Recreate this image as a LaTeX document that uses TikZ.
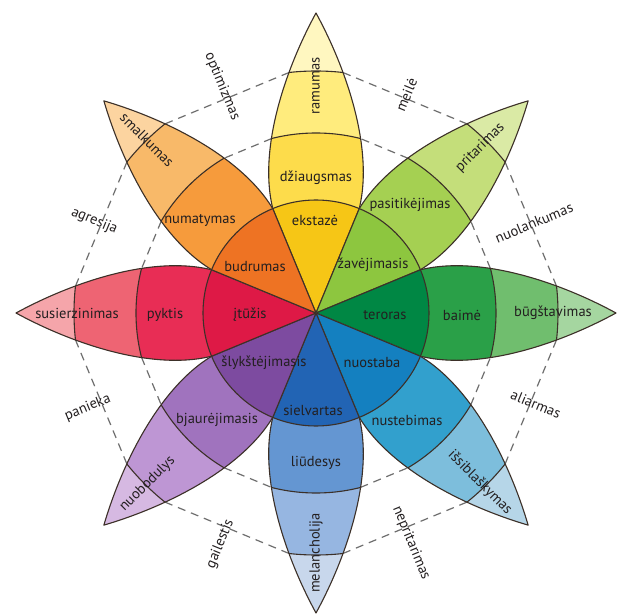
\documentclass[tikz,border=0pt]{standalone}
\usepackage{fontspec}
\setmainfont{PT Sans}
\definecolor{edgec}{RGB}{60,48,40}
\definecolor{dashc}{RGB}{110,110,110}
\definecolor{txt}{RGB}{35,31,32}
\definecolor{Y1}{RGB}{246,198,22}\definecolor{Y2}{RGB}{253,220,75}\definecolor{Y3}{RGB}{255,236,125}\definecolor{Y4}{RGB}{255,247,192}
\definecolor{G1}{RGB}{141,198,63}\definecolor{G2}{RGB}{165,208,82}\definecolor{G3}{RGB}{196,222,122}\definecolor{G4}{RGB}{218,234,165}
\definecolor{T1}{RGB}{0,135,68}\definecolor{T2}{RGB}{42,160,72}\definecolor{T3}{RGB}{112,190,110}\definecolor{T4}{RGB}{165,214,160}
\definecolor{C1}{RGB}{20,128,192}\definecolor{C2}{RGB}{50,160,205}\definecolor{C3}{RGB}{125,190,220}\definecolor{C4}{RGB}{182,214,232}
\definecolor{B1}{RGB}{34,100,180}\definecolor{B2}{RGB}{100,150,210}\definecolor{B3}{RGB}{150,182,225}\definecolor{B4}{RGB}{200,215,236}
\definecolor{P1}{RGB}{125,75,160}\definecolor{P2}{RGB}{160,115,190}\definecolor{P3}{RGB}{190,150,212}\definecolor{P4}{RGB}{214,185,226}
\definecolor{R1}{RGB}{222,25,70}\definecolor{R2}{RGB}{232,45,85}\definecolor{R3}{RGB}{238,100,115}\definecolor{R4}{RGB}{245,165,170}
\definecolor{O1}{RGB}{238,115,35}\definecolor{O2}{RGB}{246,155,60}\definecolor{O3}{RGB}{248,185,105}\definecolor{O4}{RGB}{252,212,160}
\begin{document}
\begin{tikzpicture}[x=1pt,y=1pt,
  edge/.style={draw=edgec, line width=1.1pt},
  chord/.style={draw=dashc, line width=1.2pt, dash pattern=on 8pt off 6pt},
  lab/.style={font=\fontsize{14.5}{14.5}\selectfont, text=txt, inner sep=0pt},
]
\useasboundingbox (-316,-302) rectangle (307,313);
\fill[white] (-316,-302) rectangle (307,313);
% dashed chords between petals
\foreach \a in {0,45,...,315}{
  \draw[chord] (\a+14.3:180) -- (\a+30.7:180);
  \draw[chord] (\a+6.4:242) -- (\a+38.6:242);
}
% petals
\foreach \a/\ca/\cb/\cc/\cd in {90/Y1/Y2/Y3/Y4, 45/G1/G2/G3/G4, 0/T1/T2/T3/T4, -45/C1/C2/C3/C4,
  -90/B1/B2/B3/B4, -135/P1/P2/P3/P4, 180/R1/R2/R3/R4, 135/O1/O2/O3/O4}{
  \begin{scope}[rotate=\a]
    \begin{scope}
      \clip (0,0) -- (22.5:113) .. controls (165,58) and (245,30) .. (300,0)
        .. controls (245,-30) and (165,-58) .. (-22.5:113) -- cycle;
      \fill[\cd] (-5,-70) rectangle (305,70);
      \fill[\cc] (0,0) circle (242);
      \fill[\cb] (0,0) circle (180);
      \fill[\ca] (0,0) circle (113);
      \draw[edge] (0,0) circle (242) (0,0) circle (180) (0,0) circle (113);
    \end{scope}
    \draw[edge, line join=round] (0,0) -- (22.5:113) .. controls (165,58) and (245,30) .. (300,0)
        .. controls (245,-30) and (165,-58) .. (-22.5:113) -- cycle;
  \end{scope}
}
% inner labels
\node[lab] (ekstaze) at (-1,93) {ekstazė};
\node[lab] (zavejimasis) at (57,48) {žavėjimasis};
\node[lab] (teroras) at (69,-2) {teroras};
\node[lab] (nuostaba) at (56,-50) {nuostaba};
\node[lab] (sielvartas) at (-3,-97) {sielvartas};
\node[lab] (slyks) at (-52,-50) {šlykštėjimasis};
\node[lab] (ituzis) at (-66,-2) {įtūžis};
\node[lab] (budrumas) at (-61,46) {budrumas};
% middle labels
\node[lab] (dziaugsmas) at (0,135) {džiaugsmas};
\node[lab] (pasitikejimas) at (94,108) {pasitikėjimas};
\node[lab] (baime) at (146,-2) {baimė};
\node[lab] (nustebimas) at (91,-107) {nustebimas};
\node[lab] (liudesys) at (0,-150) {liūdesys};
\node[lab] (bjaurejimasis) at (-99,-107) {bjaurėjimasis};
\node[lab] (pyktis) at (-151,-2) {pyktis};
\node[lab] (numatymas) at (-116,93) {numatymas};
% outer labels
\node[lab, rotate=90] (ramumas) at (90:227) {ramumas};
\node[lab, rotate=45] (pritarimas) at (45.2:233) {pritarimas};
\node[lab] (bugstavimas) at (0:237) {būgštavimas};
\node[lab, rotate=-45] (issiblaskymas) at (-46:236) {išsiblaškymas};
\node[lab, rotate=90] (melancholija) at (-90:240) {melancholija};
\node[lab, rotate=45] (nuobodulys) at (-134.6:240) {nuobodulys};
\node[lab] (susierzinimas) at (180:239) {susierzinimas};
\node[lab, rotate=-45] (smalkumas) at (134.3:242) {smalkumas};
% dyads
\node[lab, rotate=-67.5] (optimizmas) at (112.5:245) {optimizmas};
\node[lab, rotate=67.5] (meile) at (67.5:236) {meilė};
\node[lab, rotate=22.5] (nuolankumas) at (22.5:236) {nuolankumas};
\node[lab, rotate=-22.5] (aliarmas) at (-22.5:238) {aliarmas};
\node[lab, rotate=-67.5] (nepritarimas) at (-67.5:249) {nepritarimas};
\node[lab, rotate=67.5] (gailestis) at (-112.5:250) {gailestis};
\node[lab, rotate=22.5] (panieka) at (-157.5:247) {panieka};
\node[lab, rotate=-22.5] (agresija) at (157.5:240) {agresija};
\end{tikzpicture}
\end{document}
